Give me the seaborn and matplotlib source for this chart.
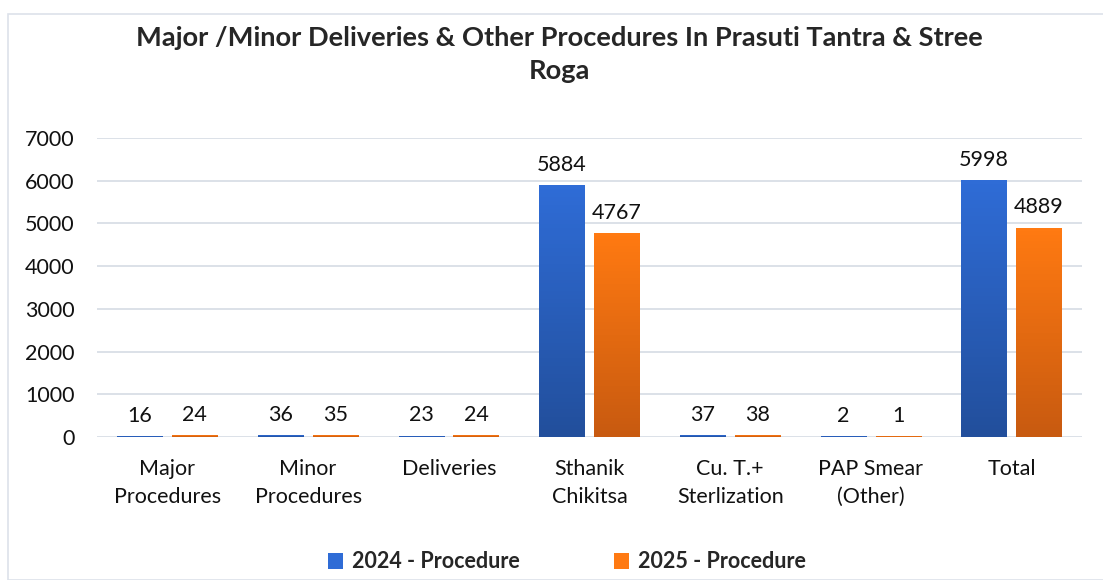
import numpy as np
import pandas as pd
import matplotlib
matplotlib.use('Agg')
import matplotlib.pyplot as plt
import seaborn as sns
from matplotlib.colors import LinearSegmentedColormap
from matplotlib.patches import Patch, Rectangle

# chart values
categories = ['Major\nProcedures', 'Minor\nProcedures', 'Deliveries', 'Sthanik\nChikitsa',
              'Cu. T.+\nSterlization', 'PAP Smear\n(Other)', 'Total']
series = ['2024 - Procedure', '2025 - Procedure']
values_2024 = [16, 36, 23, 5884, 37, 2, 5998]
values_2025 = [24, 35, 24, 4767, 38, 1, 4889]

df = pd.DataFrame({'category': categories * 2,
                   'series': [series[0]] * 7 + [series[1]] * 7,
                   'value': values_2024 + values_2025})

sns.set_style('white')
plt.rcParams['font.family'] = ['Lato', 'DejaVu Sans']

# top (light) and bottom (dark) colours of the gradient fills
grad = {series[0]: ('#2f6cd6', '#224f9c'),
        series[1]: ('#ff7a12', '#c85a10')}

fig = plt.figure(figsize=(11.03, 5.8), dpi=100)
fig.patches.append(Rectangle((8 / 1103, 0), 1, 1 - 14 / 580, transform=fig.transFigure,
                             fill=False, edgecolor='#dde2ea', linewidth=1.2))
ax = fig.add_axes([97 / 1103, 143 / 580, 985 / 1103, 299 / 580])

sns.barplot(data=df, x='category', y='value', hue='series', ax=ax,
            palette=[grad[s][0] for s in series], width=0.78, gap=0.17,
            legend=False, zorder=3)

ax.set_ylim(0, 7000)
ax.set_xlim(-0.5, 6.5)
ax.set_yticks(range(0, 7001, 1000))
ax.yaxis.grid(True, color='#d9dee6', linewidth=1.3, zorder=0)
for s in ax.spines.values():
    s.set_visible(False)
ax.set_xlabel('')
ax.set_ylabel('')
ax.tick_params(axis='both', length=0, labelsize=15.5, colors='#111111')
ax.tick_params(axis='y', pad=16)
ax.tick_params(axis='x', pad=16)
for lab in ax.get_xticklabels():
    lab.set_linespacing(1.5)

# gradient fill over each bar, plus value labels
for i, cont in enumerate(ax.containers):
    top, bot = grad[series[i]]
    cmap = LinearSegmentedColormap.from_list('g', [bot, top])
    for p, v in zip(cont.patches, [values_2024, values_2025][i]):
        x0, w, h = p.get_x(), p.get_width(), p.get_height()
        hh = max(h, 18)
        img = np.linspace(0, 1, 64).reshape(-1, 1)
        ax.imshow(img, cmap=cmap, origin='lower', aspect='auto',
                  extent=(x0, x0 + w, 0, hh), zorder=4)
        p.set_visible(False)
        ax.text(x0 + w / 2, h + 250, f'{v}', ha='center', va='bottom',
                fontsize=15.5, color='#111111', zorder=5)
ax.set_xlim(-0.5, 6.5)
ax.set_ylim(0, 7000)

fig.suptitle('Major /Minor Deliveries & Other Procedures In Prasuti Tantra & Stree\nRoga',
             x=0.507, y=0.955, fontsize=19.6, fontweight='bold', linespacing=1.45)

handles = [Patch(facecolor=grad[s][0], edgecolor='none') for s in series]
fig.legend(handles, series, loc='center', bbox_to_anchor=(0.514, 18 / 580), ncol=2,
           frameon=False, handlelength=0.7, handleheight=0.7, handletextpad=0.4,
           columnspacing=4.4, prop={'weight': 'bold', 'size': 15.5})

fig.savefig('out.png', dpi=100)
